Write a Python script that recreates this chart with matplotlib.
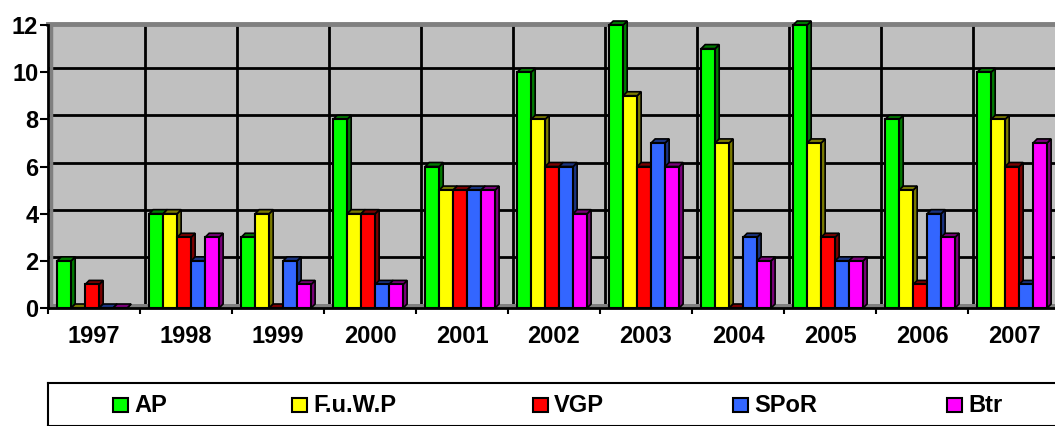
import matplotlib.pyplot as plt
import matplotlib as mpl
from matplotlib.patches import Rectangle, Polygon
import numpy as np

plt.rcParams['font.family'] = ['Liberation Sans', 'DejaVu Sans']
plt.rcParams['font.weight'] = 'bold'

years = ['1997', '1998', '1999', '2000', '2001', '2002',
         '2003', '2004', '2005', '2006', '2007']
series_names = ['AP', 'F.u.W.P', 'VGP', 'SPoR', 'Btr']
ap = [2, 4, 3, 8, 6, 10, 12, 11, 12, 8, 10]
fuwp = [0, 4, 4, 4, 5, 8, 9, 7, 7, 5, 8]
vgp = [1, 3, 0, 4, 5, 6, 6, 0, 3, 1, 6]
spor = [0, 2, 2, 1, 5, 6, 7, 3, 2, 4, 1]
btr = [0, 3, 1, 1, 5, 4, 6, 2, 2, 3, 7]
series = [ap, fuwp, vgp, spor, btr]

front = ['#00ff00', '#ffff00', '#ff0000', '#3366ff', '#ff00ff']
side = ['#007a00', '#7a7a00', '#7a0000', '#1a3380', '#7a007a']

W, H = 1055, 426
fig = plt.figure(figsize=(W / 100, H / 100), dpi=100)

# plot area in pixels: left edge 48, y=0 at 308, y=12 at 25, 92 px per category
ax_l, ax_r, ax_b, ax_t = 48, 48 + 92 * 11, 308, 25
ax = fig.add_axes([ax_l / W, 1 - ax_b / H, (ax_r - ax_l) / W, (ax_b - ax_t) / H])
ax.set_xlim(0, 11)
ax.set_ylim(0, 12)
ax.set_facecolor('#c0c0c0')

px_x = 11 / (ax_r - ax_l)      # data units per pixel
px_y = 12 / (ax_b - ax_t)
dx, dy = 4 * px_x, 4 * px_y     # 3d depth

# back wall grid
for v in range(2, 12, 2):
    ax.plot([0, 11], [v + dy, v + dy], color='black', lw=2, zorder=1)
for i in range(1, 11):
    ax.plot([i + 5 * px_x] * 2, [0, 12], color='black', lw=2, zorder=1)
# floor and wall edges
ax.fill_between([0, 11], 0, dy, color='#808080', zorder=1, lw=0)
ax.plot([0, 11], [12 + dy * 0.3] * 2, color='#808080', lw=3.5, zorder=1, clip_on=False)
ax.plot([2.5 * px_x] * 2, [0, 12], color='#808080', lw=2.5, zorder=1)

bw = 0.152
for s, vals in enumerate(series):
    for i, v in enumerate(vals):
        x0 = i + 0.1 + s * bw
        ax.add_patch(Polygon([[x0 + bw, 0], [x0 + bw + dx, dy], [x0 + bw + dx, v + dy], [x0 + bw, v]],
                             closed=True, facecolor=side[s], edgecolor='black', lw=1.2,
                             zorder=3 + s, clip_on=False))
        ax.add_patch(Polygon([[x0, v], [x0 + dx, v + dy], [x0 + bw + dx, v + dy], [x0 + bw, v]],
                             closed=True, facecolor=side[s], edgecolor='black', lw=1.2,
                             zorder=3 + s, clip_on=False))
        ax.add_patch(Rectangle((x0, 0), bw, v, facecolor=front[s], edgecolor='black',
                               lw=1.5, zorder=3 + s, clip_on=False))

for sp in ['top', 'right']:
    ax.spines[sp].set_visible(False)
ax.spines['left'].set_linewidth(2)
ax.spines['bottom'].set_linewidth(2)
ax.spines['left'].set_zorder(10)
ax.spines['bottom'].set_zorder(10)

ax.set_yticks(range(0, 13, 2))
ax.set_yticklabels([str(v) for v in range(0, 13, 2)], fontsize=17, fontweight='bold')
ax.set_xticks(range(0, 12))
ax.set_xticklabels([])
ax.set_xticks(np.arange(11) + 0.5, minor=True)
ax.set_xticklabels(years, minor=True, fontsize=17, fontweight='bold')
ax.tick_params(axis='x', which='minor', length=0, pad=12)
ax.tick_params(axis='x', which='major', length=4, width=1.5, direction='out')
ax.tick_params(axis='y', length=6, width=1.5, pad=1)

# legend box
lg = fig.add_axes([ax_l / W, 0, 1.0, (H - 383) / H])
lg.set_xlim(ax_l, ax_l + W)
lg.set_ylim(H, 383)
lg.set_xticks([])
lg.set_yticks([])
for sp in lg.spines.values():
    sp.set_linewidth(1.5)
legend_x = [113, 292, 533, 733, 947]
for s, name in enumerate(series_names):
    x = legend_x[s]
    lg.add_patch(Rectangle((x, 398), 15, 14, facecolor=front[s], edgecolor='black', lw=1.5))
    lg.text(x + 21, 405, name, fontsize=17, fontweight='bold', va='center', ha='left')

plt.savefig('out.png', dpi=100)
